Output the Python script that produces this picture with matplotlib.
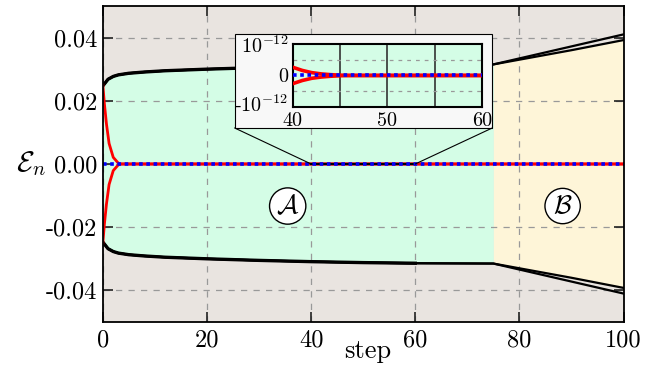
import numpy as np
import matplotlib
matplotlib.use("Agg")
import matplotlib.pyplot as plt
import matplotlib.transforms as mtransforms
from matplotlib.patches import Rectangle, ConnectionPatch

plt.rcParams["font.family"] = "cmr10"
plt.rcParams["mathtext.fontset"] = "cm"
plt.rcParams["axes.unicode_minus"] = False

# ── data ─────────────────────────────────────────────────────
steps = [0, 1, 2, 3, 5, 8, 12, 20, 30, 40, 50, 60, 75, 80, 90, 100]
env_outer = [0.0247, 0.0268, 0.0277, 0.0282, 0.0287, 0.0291, 0.0295, 0.0300,
             0.0305, 0.0309, 0.0312, 0.0314, 0.0315, 0.0334, 0.0372, 0.0410]
env_inner = [0.0247, 0.0268, 0.0277, 0.0282, 0.0287, 0.0291, 0.0295, 0.0300,
             0.0305, 0.0309, 0.0312, 0.0314, 0.0315, 0.0330, 0.0360, 0.0392]

red_steps = [0, 0.3, 0.7, 1.2, 2.0, 2.9, 3.3, 100]
red_vals = [0.025, 0.019, 0.0126, 0.0065, 0.0021, 0.0004, 0.0, 0.0]

tail_steps = [40, 41, 42, 43, 44, 45, 46, 60]
tail_vals = [0.26e-12, 0.16e-12, 0.09e-12, 0.05e-12, 0.025e-12, 0.01e-12, 0.0, 0.0]

switch_step = 75
yticks = [-0.04, -0.02, 0.00, 0.02, 0.04]
ytick_labels = ["-0.04", "-0.02", "0.00", "0.02", "0.04"]
xticks = [0, 20, 40, 60, 80, 100]

# ── colours ──────────────────────────────────────────────────
c_bg = "#E9E4E0"
c_green = "#D4FDE6"
c_yellow = "#FEF5D8"
c_box = "#F8F8F8"

steps = np.array(steps)
env_outer = np.array(env_outer)
env_inner = np.array(env_inner)
red_steps = np.array(red_steps)
red_vals = np.array(red_vals)

fig = plt.figure(figsize=(6.55, 3.71), dpi=100)
ax = fig.add_axes([0.157, 0.132, 0.795, 0.852])
ax.set_facecolor(c_bg)

ia = steps <= switch_step
ib = steps >= switch_step
ax.fill_between(steps[ia], -env_inner[ia], env_inner[ia], color=c_green, lw=0, zorder=1)
ax.fill_between(steps[ib], -env_inner[ib], env_inner[ib], color=c_yellow, lw=0, zorder=1)

ax.grid(True, ls=(0, (5, 5)), color="#999999", lw=0.9, zorder=1.5)
ax.set_axisbelow(False)

for env in (env_outer, env_inner):
    ax.plot(steps, env, color="black", lw=1.6, zorder=3)
    ax.plot(steps, -env, color="black", lw=1.6, zorder=3)
ax.plot(steps[steps <= 70], env_outer[steps <= 70], color="black", lw=2.4, zorder=3)
ax.plot(steps[steps <= 70], -env_outer[steps <= 70], color="black", lw=2.4, zorder=3)

ax.plot(red_steps, red_vals, color="red", lw=2.0, zorder=4)
ax.plot(red_steps, -red_vals, color="red", lw=2.0, zorder=4)
# zoom rectangle (collapsed onto y = 0)
ax.plot([40, 60], [0, 0], color="black", lw=1.6, zorder=4.5)
ax.plot([0, 100], [0, 0], color="blue", lw=2.6, ls=(0, (1, 1)), zorder=5)

ax.set_xlim(0, 100)
ax.set_ylim(-0.05, 0.05)
ax.set_xticks(xticks)
ax.set_xticklabels([str(v) for v in xticks])
ax.set_yticks(yticks)
ax.set_yticklabels(ytick_labels)
ax.tick_params(direction="in", length=7, width=1.2, colors="#222222",
               labelcolor="black", labelsize=17.5, top=True, right=True)
ax.tick_params(axis="x", pad=5)
ax.tick_params(axis="y", pad=4)
for s in ax.spines.values():
    s.set_linewidth(1.3)
    s.set_zorder(6)

ax.set_xlabel("step", fontsize=19)
ax.xaxis.set_label_coords(0.509, -0.055)
ax.set_ylabel(r"$\mathcal{E}_n$", fontsize=21, rotation=0, va="center", ha="center")
ax.yaxis.set_label_coords(-0.138, 0.5)

circ = dict(boxstyle="circle,pad=0.22", fc="white", ec="black", lw=1.0)
ax.text(35.5, -0.0133, r"$\mathcal{A}$", fontsize=19, ha="center", va="center",
        bbox=circ, zorder=5)
ax.text(88.3, -0.0133, r"$\mathcal{B}$", fontsize=19, ha="center", va="center",
        bbox=circ, zorder=5)

# ── inset box + connectors ───────────────────────────────────
box = (0.253, 0.614, 0.495, 0.297)
ax.add_patch(Rectangle(box[:2], box[2], box[3], transform=ax.transAxes,
                       fc=c_box, ec="black", lw=0.8, zorder=7))
for corner, target in (((box[0], box[1]), (40, 0)),
                       ((box[0] + box[2], box[1]), (60, 0))):
    con = ConnectionPatch(xyA=corner, coordsA=ax.transAxes, xyB=target,
                          coordsB=ax.transData, color="black", lw=0.8, zorder=7)
    ax.add_artist(con)

axi = fig.add_axes([0.447, 0.7116, 0.2885, 0.170])
axi.set_zorder(10)
axi.set_facecolor(c_green)
axi.set_xlim(40, 60)
axi.set_ylim(-1e-12, 1e-12)
for xv in (45, 50, 55):
    axi.axvline(xv, color="#333333", lw=1.2, zorder=1)
for yv in (-0.5e-12, 0.5e-12):
    axi.axhline(yv, color="#999999", lw=0.9, ls=(0, (3, 4)), zorder=1)
axi.plot(tail_steps, tail_vals, color="red", lw=2.6, zorder=3)
axi.plot(tail_steps, [-v for v in tail_vals], color="red", lw=2.6, zorder=3)
axi.plot([40, 60], [0, 0], color="blue", lw=2.6, ls=(0, (1, 1)), zorder=4)
axi.set_xticks([40, 50, 60])
axi.set_xticklabels(["40", "50", "60"])
axi.set_yticks([-1e-12, 0, 1e-12])
axi.set_yticklabels([r"-$10^{-12}$", "0", r"$10^{-12}$"])
axi.tick_params(length=0, labelsize=14.5, pad=3)
axi.tick_params(axis="x", pad=4)
for lbl in axi.get_yticklabels():
    lbl.set_verticalalignment("center_baseline")
# nudge the bottom y label up a little so it clears the "40"
nudge = mtransforms.ScaledTranslation(0, 3 / 72, fig.dpi_scale_trans)
bottom_lbl = axi.get_yticklabels()[0]
bottom_lbl.set_transform(bottom_lbl.get_transform() + nudge)
for s in axi.spines.values():
    s.set_linewidth(1.5)

fig.savefig("out.png", dpi=100)
